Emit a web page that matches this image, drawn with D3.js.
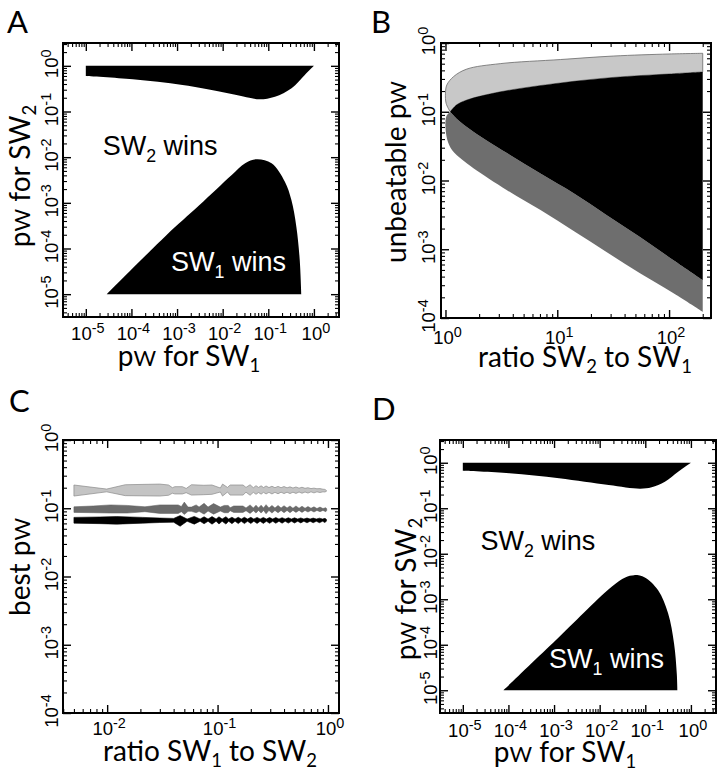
<!DOCTYPE html>
<html><head><meta charset="utf-8">
<script src="https://cdn.jsdelivr.net/npm/d3@7"></script>
<style>body{margin:0;background:#fff} svg{display:block}</style>
</head><body><svg id="c" width="721" height="773"></svg>
<script>
// ---------------- data ----------------
const aXTickExp = [-5,-4,-3,-2,-1,0];
const aYTickExp = [-5,-4,-3,-2,-1,0];
const bXTickExp = [0,1,2];
const bYTickExp = [-4,-3,-2,-1,0];
const cXTickExp = [-2,-1,0];
const cYTickExp = [-4,-3,-2,-1,0];
const dXTickExp = [-5,-4,-3,-2,-1,0];
const dYTickExp = [-5,-4,-3,-2,-1,0];

// Panel A : boundaries (pw SW1, pw SW2)
const aCeiling = 1, aFloor = 1e-5;
const aUpperEdge = [[1e-5,0.598],[1.07e-4,0.507],[1.32e-3,0.380],[0.0115,0.257],[0.0437,0.195],[0.0661,0.185],[0.140,0.211],[0.324,0.324],[0.631,0.631],[1,1]];
const aLowerEdge = [[2.88e-5,1e-5],[5.69e-4,1.91e-4],[3.02e-3,8.71e-4],[0.0158,4.07e-3],[0.0311,7.33e-3],[0.0557,8.97e-3],[0.118,7.33e-3],[0.231,2.90e-3],[0.321,1.15e-3],[0.412,3.01e-4],[0.489,5.60e-5],[0.530,1e-5]];

// Panel D
const dCeiling = 1, dFloor = 1e-5;
const dUpperEdge = [[1e-5,0.668],[1.05e-4,0.589],[1.29e-3,0.457],[0.0158,0.324],[0.0767,0.269],[0.138,0.288],[0.269,0.380],[0.525,0.631],[1,1]];
const dLowerEdge = [[7.76e-5,1e-5],[1.29e-3,1.48e-4],[0.0186,1.91e-3],[0.0363,3.02e-3],[0.0575,3.39e-3],[0.0977,3.02e-3],[0.191,1.58e-3],[0.316,4.90e-4],[0.427,1.07e-4],[0.490,2.34e-5],[0.505,1e-5]];

// Panel B : (ratio SW2 to SW1, unbeatable pw)
const bLightEdge = [[1.102,0.100],[1.014,0.132],[1.000,0.186],[1.028,0.245],[1.180,0.324],[1.549,0.417],[3.090,0.501],[10.72,0.575],[31.62,0.646],[100,0.692],[200,0.708]];
const bBlackTop = [[1.102,0.100],[1.259,0.126],[1.549,0.148],[3.090,0.195],[10.72,0.263],[31.62,0.316],[100,0.355],[200,0.380]];
const bBlackBottom = [[1.102,0.100],[1.259,0.0794],[1.778,0.0513],[3.548,0.0251],[7.079,0.0126],[14.13,0.00646],[27.54,0.00316],[54.95,0.00151],[109.6,0.000692],[200,0.000355]];
const bDarkEdge = [[1.102,0.100],[1.023,0.0871],[1.000,0.0708],[1.000,0.0603],[1.035,0.0398],[1.148,0.0275],[1.413,0.0200],[1.778,0.0151],[3.548,0.00724],[7.079,0.00372],[14.13,0.00182],[27.54,0.000912],[54.95,0.000447],[109.6,0.000229],[200,0.000123]];

// Panel C : [ratio SW1 to SW2, upper pw, lower pw]
const cLightBand = [
[0.005,0.219,0.151],[0.0099,0.191,0.174],[0.0146,0.221,0.153],[0.030,0.226,0.151],[0.036,0.219,0.155],
[0.039,0.200,0.166],[0.041,0.207,0.162],[0.048,0.207,0.162],[0.052,0.195,0.169],[0.058,0.221,0.156],
[0.075,0.217,0.158],[0.089,0.219,0.160],[0.106,0.198,0.173],[0.111,0.226,0.151],[0.123,0.202,0.173],
[0.130,0.219,0.156],[0.170,0.219,0.156],[0.181,0.202,0.172],[0.197,0.221,0.155],[0.211,0.200,0.171],
[0.223,0.214,0.160],[0.235,0.202,0.170],[0.248,0.213,0.161],[0.261,0.201,0.171],[0.275,0.212,0.162],
[0.292,0.201,0.171],[0.311,0.210,0.162],[0.331,0.200,0.171],[0.353,0.209,0.163],[0.376,0.200,0.172],
[0.400,0.208,0.164],[0.426,0.199,0.172],[0.453,0.206,0.164],[0.482,0.198,0.172],[0.513,0.205,0.165],
[0.547,0.197,0.173],[0.582,0.203,0.166],[0.620,0.196,0.173],[0.659,0.200,0.167],[0.702,0.194,0.174],
[0.747,0.197,0.168],[0.795,0.193,0.174],[0.847,0.194,0.170],[0.901,0.190,0.174],[0.940,0.189,0.173],
[0.970,0.181,0.178]];
const cDarkBand = [
[0.005,0.105,0.087],[0.0075,0.108,0.086],[0.0107,0.112,0.085],[0.0152,0.110,0.085],[0.022,0.105,0.089],
[0.030,0.112,0.084],[0.044,0.112,0.084],[0.047,0.106,0.089],[0.050,0.123,0.081],[0.054,0.104,0.090],
[0.058,0.104,0.090],[0.064,0.112,0.086],[0.068,0.104,0.090],[0.0755,0.118,0.082],[0.082,0.104,0.091],
[0.092,0.117,0.082],[0.106,0.104,0.091],[0.115,0.110,0.086],[0.125,0.110,0.086],[0.130,0.102,0.092],
[0.140,0.108,0.087],[0.170,0.108,0.087],[0.181,0.101,0.092],[0.197,0.112,0.084],[0.211,0.101,0.092],
[0.223,0.111,0.085],[0.235,0.101,0.093],[0.248,0.111,0.085],[0.261,0.101,0.093],[0.275,0.113,0.083],
[0.292,0.101,0.093],[0.311,0.110,0.085],[0.331,0.101,0.093],[0.353,0.110,0.086],[0.376,0.101,0.093],
[0.400,0.109,0.086],[0.426,0.101,0.093],[0.453,0.108,0.086],[0.482,0.100,0.093],[0.513,0.108,0.087],
[0.547,0.100,0.093],[0.582,0.107,0.087],[0.620,0.100,0.093],[0.659,0.106,0.088],[0.702,0.100,0.093],
[0.747,0.105,0.088],[0.795,0.099,0.093],[0.847,0.104,0.089],[0.901,0.099,0.093],[0.955,0.102,0.089],
[0.975,0.098,0.093]];
const cBlackBand = [
[0.005,0.0735,0.0605],[0.0086,0.0745,0.0595],[0.0122,0.0755,0.0585],[0.021,0.0735,0.0605],[0.030,0.0718,0.0618],
[0.040,0.0710,0.0625],[0.0458,0.0780,0.0545],[0.053,0.0695,0.0645],[0.0615,0.0760,0.0585],[0.0695,0.0695,0.0645],
[0.0755,0.0750,0.0592],[0.0820,0.0695,0.0645],[0.0891,0.0755,0.0585],[0.0970,0.0695,0.0645],[0.103,0.0750,0.0588],
[0.110,0.0695,0.0645],[0.119,0.0752,0.0586],[0.126,0.0695,0.0645],[0.135,0.0740,0.0595],[0.144,0.0695,0.0645],
[0.154,0.0738,0.0596],[0.164,0.0695,0.0645],[0.175,0.0738,0.0596],[0.187,0.0695,0.0645],[0.200,0.0736,0.0598],
[0.213,0.0695,0.0645],[0.228,0.0735,0.0599],[0.243,0.0695,0.0645],[0.260,0.0734,0.0600],[0.277,0.0695,0.0645],
[0.296,0.0732,0.0601],[0.316,0.0695,0.0645],[0.337,0.0730,0.0603],[0.360,0.0695,0.0645],[0.384,0.0728,0.0604],
[0.410,0.0695,0.0645],[0.437,0.0726,0.0606],[0.467,0.0695,0.0645],[0.498,0.0724,0.0608],[0.532,0.0695,0.0645],
[0.567,0.0722,0.0610],[0.605,0.0695,0.0645],[0.646,0.0720,0.0611],[0.689,0.0695,0.0645],[0.735,0.0718,0.0613],
[0.785,0.0695,0.0645],[0.838,0.0716,0.0614],[0.894,0.0695,0.0645],[0.940,0.0712,0.0616],[0.970,0.0685,0.0652]];

// annotation anchors (data coordinates)
const aWinLabels = [{parts:[["SW",""],["2","sub"],[" wins",""]], x:2.34e-5, y:0.0112, fill:"#000"},
                    {parts:[["SW",""],["1","sub"],[" wins",""]], x:7.41e-4, y:3.24e-5, fill:"#fff"}];
const dWinLabels = [{parts:[["SW",""],["2","sub"],[" wins",""]], x:2.43e-5, y:0.0120, fill:"#000"},
                    {parts:[["SW",""],["1","sub"],[" wins",""]], x:7.76e-4, y:3.02e-5, fill:"#fff"}];

// ---------------- drawing ----------------
const svg = d3.select("#c");
const fTick = "'Liberation Sans', Arial, Helvetica, sans-serif";
const fTitle = "Lato, 'Open Sans', sans-serif";

function rich(sel, parts, size, supR, subR){
  let shift = 0;
  parts.forEach(([t,kind])=>{
    const ts = sel.append("tspan").text(t);
    let target = 0, fs = size;
    if (kind==="sub"){ target = size*(subR||0.22); fs = size*0.66; }
    else if (kind==="sup"){ target = -size*0.36; fs = size*(supR||0.75); }
    else if (kind==="small"){ target = 0; fs = size*0.78; }
    ts.attr("font-size", fs).attr("dy", target-shift);
    shift = target;
  });
}

function panel(p){
  const g = svg.append("g");
  const x = d3.scaleLog().domain(p.xDom).range([p.x0,p.x1]);
  const y = d3.scaleLog().domain(p.yDom).range([p.y1,p.y0]);
  return {g,x,y};
}

function decor(P, p){
  const {g,x,y} = P;
  const isMajor = v => Math.abs(Math.log10(v)-Math.round(Math.log10(v)))<1e-6;
  const majX = p.xExp.map(e=>Math.pow(10,e)).filter(v=>x(v)>=p.x0-0.5&&x(v)<=p.x1+0.5);
  const majY = p.yExp.map(e=>Math.pow(10,e)).filter(v=>y(v)>=p.y0-0.5&&y(v)<=p.y1+0.5);
  const minX = x.ticks().filter(v=>!isMajor(v));
  const minY = y.ticks().filter(v=>!isMajor(v));
  const ax = [
    [d3.axisBottom, x, `translate(0,${p.y1})`, majX, minX],
    [d3.axisTop, x, `translate(0,${p.y0})`, majX, minX],
    [d3.axisLeft, y, `translate(${p.x0},0)`, majY, minY],
    [d3.axisRight, y, `translate(${p.x1},0)`, majY, minY]];
  ax.forEach(([f,s,tr,maj,min])=>{
    [[maj,-8,1.4],[min,-4,1.1]].forEach(([vals,len,w])=>{
      const a = g.append("g").attr("transform",tr)
        .call(f(s).tickValues(vals).tickSize(len).tickSizeOuter(0).tickFormat(""));
      a.select(".domain").remove();
      a.selectAll("line").attr("stroke","#000").attr("stroke-width",w);
    });
  });
  g.append("rect").attr("x",p.x0).attr("y",p.y0).attr("width",p.x1-p.x0).attr("height",p.y1-p.y0)
    .attr("fill","none").attr("stroke","#000").attr("stroke-width",2);
  // tick labels
  p.xExp.forEach(e=>{
    const t = g.append("text").attr("x",x(Math.pow(10,e))+2).attr("y",p.y1+p.xLabOff)
      .attr("text-anchor","middle").attr("font-family",fTick).attr("fill","#000");
    rich(t,[["10",""],[String(e),"sup"]],18.5,0.78);
  });
  p.yExp.forEach(e=>{
    const t = g.append("text").attr("transform",`translate(${p.x0-p.yLabOff},${y(Math.pow(10,e))-2}) rotate(-90)`)
      .attr("text-anchor","middle").attr("font-family",fTick).attr("fill","#000");
    rich(t,[["10",""],[String(e),"sup"]],18.5,0.78);
  });
  // titles
  const tx = g.append("text").attr("x",p.xtX).attr("y",p.xtY).attr("text-anchor","middle")
    .attr("font-family",fTitle).attr("fill","#000");
  rich(tx,p.xTitle,28);
  const ty = g.append("text").attr("transform",`translate(${p.ytX},${p.ytY}) rotate(-90)`)
    .attr("text-anchor","middle").attr("font-family",fTitle).attr("fill","#000");
  rich(ty,p.yTitle,28);
  svg.append("text").attr("x",p.lX).attr("y",p.lY).attr("font-family",fTitle)
    .attr("font-size",31).attr("fill","#000").text(p.letter);
}

const curve = d3.curveCatmullRom.alpha(0.5);

function winsPanel(p, upperEdge, lowerEdge, ceiling, labels){
  const P = panel(p); const {g,x,y} = P;
  const line = d3.line().x(d=>x(d[0])).y(d=>y(d[1])).curve(curve);
  g.append("path").attr("fill","#000")
    .attr("d", line(upperEdge) + `L${x(upperEdge[0][0])},${y(ceiling)}Z`);
  g.append("path").attr("fill","#000").attr("d", line(lowerEdge) + "Z");
  labels.forEach(L=>{
    const t = g.append("text").attr("x",x(L.x)).attr("y",y(L.y)).attr("font-family",fTick)
      .attr("fill",L.fill);
    rich(t,L.parts,27,null,0.26);
  });
  decor(P,p);
}

const titlePw1 = [["p",""],["W","small"],[" for SW",""],["1","sub"]];
const titlePw2 = [["p",""],["W","small"],[" for SW",""],["2","sub"]];

// Panel A
winsPanel({x0:63,x1:339,y0:43,y1:317,xDom:[Math.pow(10,-5.5),Math.pow(10,0.55)],yDom:[Math.pow(10,-5.5),Math.pow(10,0.5)],
  xExp:aXTickExp,yExp:aYTickExp,xLabOff:23,yLabOff:5,xTitle:titlePw1,xtX:189,xtY:366,yTitle:titlePw2,ytX:30,ytY:176,
  letter:"A",lX:7,lY:33}, aUpperEdge, aLowerEdge, aCeiling, aWinLabels);

// Panel D
winsPanel({x0:440,x1:716,y0:440,y1:713,xDom:[Math.pow(10,-5.5),Math.pow(10,0.55)],yDom:[Math.pow(10,-5.5),Math.pow(10,0.5)],
  xExp:dXTickExp,yExp:dYTickExp,xLabOff:24,yLabOff:3,xTitle:titlePw1,xtX:565,xtY:762,yTitle:titlePw2,ytX:416,ytY:589,
  letter:"D",lX:372,lY:420}, dUpperEdge, dLowerEdge, dCeiling, dWinLabels);

// Panel B
(function(){
  const p = {x0:441,x1:711,y0:43,y1:318,xDom:[Math.pow(10,-0.04),Math.pow(10,2.375)],yDom:[1e-4,1],
    xExp:bXTickExp,yExp:bYTickExp,xLabOff:26,yLabOff:6,
    xTitle:[["ratio SW",""],["2","sub"],[" to SW",""],["1","sub"]],xtX:585,xtY:367,
    yTitle:[["unbeatable p",""],["W","small"]],ytX:406,ytY:172,letter:"B",lX:371,lY:33};
  const P = panel(p); const {g,x,y} = P;
  const line = d3.line().x(d=>x(d[0])).y(d=>y(d[1])).curve(curve);
  const join = (a,b)=> line(a) + line(b.slice().reverse()).replace(/^M/,"L") + "Z";
  g.append("path").attr("fill","#c8c8c8").attr("stroke","#6a6a6a").attr("stroke-width",0.8)
    .attr("d", join(bLightEdge,bBlackTop));
  g.append("path").attr("fill","#6e6e6e").attr("d", join(bBlackBottom,bDarkEdge));
  g.append("path").attr("fill","#000").attr("d", join(bBlackTop,bBlackBottom));
  decor(P,p);
})();

// Panel C
(function(){
  const p = {x0:63,x1:339,y0:440,y1:713,xDom:[Math.pow(10,-2.4),Math.pow(10,0.1)],yDom:[1e-4,1],
    xExp:cXTickExp,yExp:cYTickExp,xLabOff:22,yLabOff:5,
    xTitle:[["ratio SW",""],["1","sub"],[" to SW",""],["2","sub"]],xtX:210,xtY:761,
    yTitle:[["best p",""],["W","small"]],ytX:30,ytY:567,letter:"C",lX:9,lY:412};
  const P = panel(p); const {g,x,y} = P;
  const area = d3.area().x(d=>x(d[0])).y0(d=>y(d[2])).y1(d=>y(d[1]));
  g.append("path").attr("fill","#c4c4c4").attr("stroke","#8a8a8a").attr("stroke-width",0.7).attr("d",area(cLightBand));
  g.append("path").attr("fill","#6b6b6b").attr("stroke","#5a5a5a").attr("stroke-width",0.5).attr("d",area(cDarkBand));
  g.append("path").attr("fill","#000").attr("stroke","#000").attr("stroke-width",0.6).attr("d",area(cBlackBand));
  decor(P,p);
})();
</script></body></html>
